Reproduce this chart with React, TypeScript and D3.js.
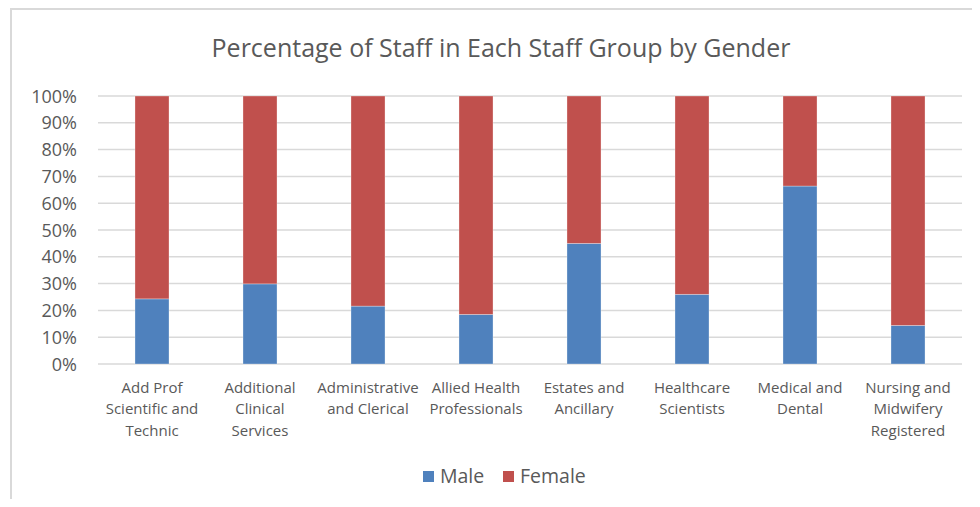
import * as d3 from "d3";
import { useEffect, useRef } from "react";

const categories = [
  ["Add Prof", "Scientific and", "Technic"],
  ["Additional", "Clinical", "Services"],
  ["Administrative", "and Clerical"],
  ["Allied Health", "Professionals"],
  ["Estates and", "Ancillary"],
  ["Healthcare", "Scientists"],
  ["Medical and", "Dental"],
  ["Nursing and", "Midwifery", "Registered"],
];
const male = [0.243, 0.299, 0.216, 0.185, 0.45, 0.26, 0.664, 0.144];
const female = male.map((m) => 1 - m);
const seriesNames = ["Male", "Female"];
const colors = ["#4F81BD", "#C0504D"];
const yTicks = [0, 0.1, 0.2, 0.3, 0.4, 0.5, 0.6, 0.7, 0.8, 0.9, 1];

export default function App() {
  const svgRef = useRef(null);

  useEffect(() => {
    const w = 980;
    const h = 507;
    const font = "Open Sans, sans-serif";
    const svg = d3.select(svgRef.current).attr("width", w).attr("height", h);
    svg.selectAll("*").remove();

    svg.append("rect").attr("width", w).attr("height", h).attr("fill", "#fff");

    // chart border (top + left only visible)
    svg.append("line").attr("x1", 10).attr("x2", w).attr("y1", 9).attr("y2", 9)
      .attr("stroke", "#d9d9d9").attr("stroke-width", 2);
    svg.append("line").attr("x1", 11).attr("x2", 11).attr("y1", 9).attr("y2", h)
      .attr("stroke", "#d9d9d9").attr("stroke-width", 2);

    svg.append("text")
      .attr("x", 501).attr("y", 57)
      .attr("text-anchor", "middle")
      .attr("font-family", font).attr("font-size", 25)
      .attr("fill", "#595959")
      .text("Percentage of Staff in Each Staff Group by Gender");

    const x = d3.scaleBand()
      .domain(categories.map((_, i) => String(i)))
      .range([98, 962])
      .paddingInner(0.685)
      .paddingOuter(0.3425);
    const y = d3.scaleLinear().domain([0, 1]).range([364, 96]);

    const grid = svg.append("g");
    grid.selectAll("line")
      .data(yTicks)
      .enter()
      .append("line")
      .attr("x1", 98).attr("x2", 962)
      .attr("y1", (d) => y(d)).attr("y2", (d) => y(d))
      .attr("stroke", "#d9d9d9").attr("stroke-width", 1.5);

    svg.append("g")
      .selectAll("text")
      .data(yTicks)
      .enter()
      .append("text")
      .attr("x", 77).attr("y", (d) => y(d) + 6.5)
      .attr("text-anchor", "end")
      .attr("font-family", font).attr("font-size", 18)
      .attr("fill", "#595959")
      .text((d) => d3.format(".0%")(d));

    const stacked = d3.stack<number>()
      .keys(["0", "1"])
      .value((i, k) => (k === "0" ? male[i] : female[i]))(d3.range(male.length));

    stacked.forEach((s, si) => {
      svg.append("g")
        .selectAll("rect")
        .data(s)
        .enter()
        .append("rect")
        .attr("x", (_, i) => x(String(i)) as number)
        .attr("width", x.bandwidth())
        .attr("y", (d) => y(d[1]))
        .attr("height", (d) => y(d[0]) - y(d[1]))
        .attr("fill", colors[si])
        .attr("stroke", "#fff").attr("stroke-opacity", 0.4).attr("stroke-width", 0.75);
    });

    const labels = svg.append("g");
    categories.forEach((lines, i) => {
      const cx = (x(String(i)) as number) + x.bandwidth() / 2;
      const t = labels.append("text")
        .attr("text-anchor", "middle")
        .attr("font-family", font).attr("font-size", 15)
        .attr("fill", "#595959");
      lines.forEach((ln, j) => {
        t.append("tspan").attr("x", cx).attr("y", 392.5 + j * 21.5).text(ln);
      });
    });

    const legend = svg.append("g");
    const legX = [423, 503];
    seriesNames.forEach((n, i) => {
      legend.append("rect").attr("x", legX[i]).attr("y", 471)
        .attr("width", 11).attr("height", 11).attr("fill", colors[i]);
      legend.append("text").attr("x", legX[i] + 17).attr("y", 482.5)
        .attr("font-family", font).attr("font-size", 19.5)
        .attr("fill", "#595959").text(n);
    });
  }, []);

  return (
    <div style={{ margin: -8 }}>
      <svg ref={svgRef} style={{ display: "block" }}></svg>
    </div>
  );
}
